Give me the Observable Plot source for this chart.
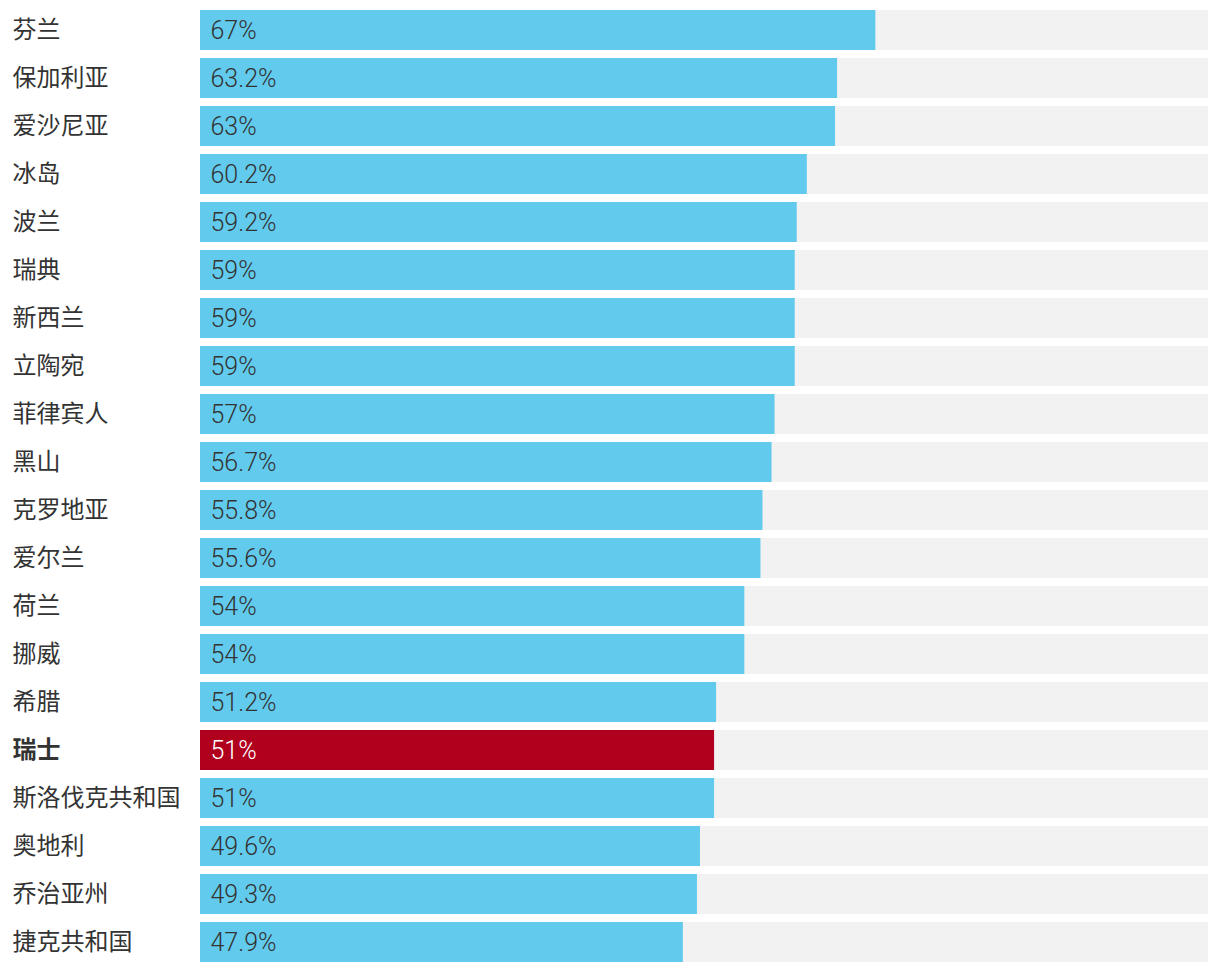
<!DOCTYPE html>
<html>
<head>
<meta charset="utf-8">
<script src="https://cdn.jsdelivr.net/npm/d3@7"></script>
<script src="https://cdn.jsdelivr.net/npm/@observablehq/plot@0.6"></script>
<style>
  html, body { margin: 0; padding: 0; background: #fff; }
  svg { display: block; }
</style>
</head>
<body>
<div id="chart"></div>
<script>
const countries = ["芬兰","保加利亚","爱沙尼亚","冰岛","波兰","瑞典","新西兰","立陶宛","菲律宾人","黑山","克罗地亚","爱尔兰","荷兰","挪威","希腊","瑞士","斯洛伐克共和国","奥地利","乔治亚州","捷克共和国"];
const values = [67, 63.2, 63, 60.2, 59.2, 59, 59, 59, 57, 56.7, 55.8, 55.6, 54, 54, 51.2, 51, 51, 49.6, 49.3, 47.9];
const labels = ["67%","63.2%","63%","60.2%","59.2%","59%","59%","59%","57%","56.7%","55.8%","55.6%","54%","54%","51.2%","51%","51%","49.6%","49.3%","47.9%"];
const highlight = "瑞士";
const maxValue = 100;

const data = countries.map((c, i) => ({country: c, value: values[i], label: labels[i], hi: c === highlight}));
const normal = data.filter(d => !d.hi);
const special = data.filter(d => d.hi);

const cjk = "'Noto Sans CJK SC', 'Noto Sans', sans-serif";
const num = "Roboto, 'Liberation Sans', sans-serif";

const chart = Plot.plot({
  width: 1220,
  height: 972,
  marginTop: 10,
  marginBottom: 10,
  marginLeft: 200,
  marginRight: 12,
  style: {fontFamily: cjk, background: "#fff"},
  x: {domain: [0, maxValue], axis: null},
  y: {domain: countries, paddingInner: 1/6, paddingOuter: 0, axis: null},
  marks: [
    Plot.barX(data, {x1: 0, x2: maxValue, y: "country", fill: "#f2f2f2"}),
    Plot.barX(data, {x1: 0, x2: "value", y: "country", fill: d => d.hi ? "#b0001e" : "#62cbed"}),
    Plot.text(normal, {x: 0, y: "country", text: "label", textAnchor: "start", dx: 10, fontSize: 25, fontFamily: num, fontWeight: 300, fill: "#333333"}),
    Plot.text(special, {x: 0, y: "country", text: "label", textAnchor: "start", dx: 10, fontSize: 25, fontFamily: num, fontWeight: 300, fill: "#ffffff"}),
    Plot.text(normal, {x: 0, y: "country", text: "country", textAnchor: "start", dx: -188, fontSize: 24, fill: "#333333"}),
    Plot.text(special, {x: 0, y: "country", text: "country", textAnchor: "start", dx: -188, fontSize: 24, fontWeight: "bold", fill: "#333333"})
  ]
});
document.getElementById("chart").appendChild(chart);
</script>
</body>
</html>
